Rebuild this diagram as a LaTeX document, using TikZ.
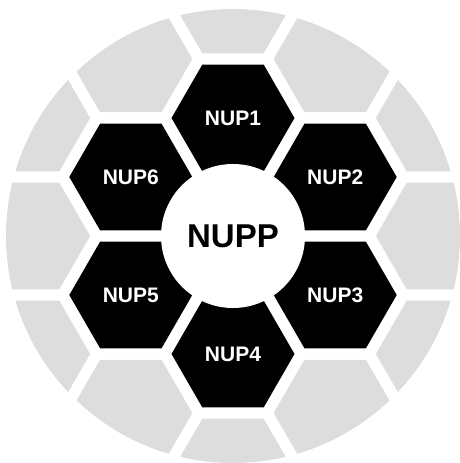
\documentclass[tikz,border=0pt]{standalone}
\usepackage{fontspec}
\setmainfont{Liberation Sans}
\usetikzlibrary{shapes.geometric}
\definecolor{hexgrey}{RGB}{221,221,221}
\tikzset{hexcell/.style={regular polygon, regular polygon sides=6, minimum size=123pt, inner sep=0pt}}
\tikzset{nupcell/.style={hexcell, fill=black, text=white, font=\fontsize{21}{21}\selectfont\bfseries}}
\tikzset{outercell/.style={hexcell, fill=hexgrey}}

\begin{document}
\begin{tikzpicture}[x=1pt, y=1pt]

  \newcommand\X{118pt}
  \newcommand\Y{204.4pt}

  \useasboundingbox (-233,-227) rectangle (227,236);

  % outer ring, cut by the big circle
  \begin{scope}
    \clip (0,0) circle (227pt);
    \foreach \a in {0,60,...,300} {
      \node[outercell] (side\a) at (\a:\Y) {};
      \node[outercell] (tip\a) at (\a+30:2*\X) {};
    }
  \end{scope}

  % inner ring
  \foreach \i in {1,...,6}
    \node[nupcell] (nup\i) at ({150-60*\i}:\X) {NUP\i};

  \node[circle, fill=white, minimum size=144pt, inner sep=0pt,
        font=\fontsize{33}{33}\selectfont\bfseries] (nupp) at (0,0) {NUPP};

\end{tikzpicture}
\end{document}
